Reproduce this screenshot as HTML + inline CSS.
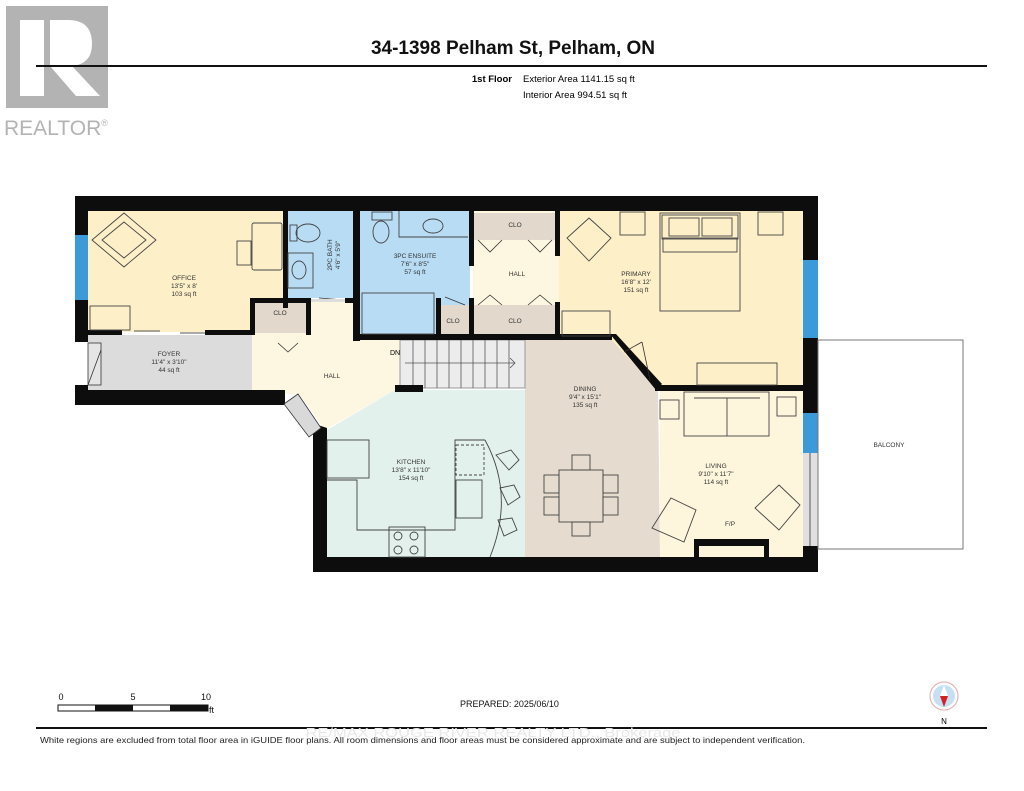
<!DOCTYPE html>
<html><head><meta charset="utf-8"><style>
html,body{margin:0;padding:0;background:#fff;}
svg{display:block;font-family:"Liberation Sans",sans-serif;}
</style></head><body>
<svg width="1024" height="791" viewBox="0 0 1024 791" xmlns="http://www.w3.org/2000/svg">
<!-- logo -->
<rect x="6" y="6" width="102" height="102" fill="#b3b3b3"/>
<path d="M20 20 H44 V96 H20 Z" fill="#fff"/>
<path d="M50 20 H68 Q92 20 92 44 Q92 64 72 66 L100 96 H76 L50 66 Z" fill="#fff"/>
<text x="4" y="135" font-size="21" fill="#b3b3b3">REALTOR<tspan font-size="9" dy="-9">®</tspan></text>
<!-- header -->
<text x="513" y="54" font-size="19" font-weight="bold" text-anchor="middle" fill="#111">34-1398 Pelham St, Pelham, ON</text>
<line x1="36" y1="66" x2="987" y2="66" stroke="#111" stroke-width="2"/>
<text x="512" y="82" font-size="9.5" font-weight="bold" text-anchor="end">1st Floor</text>
<text x="523" y="82" font-size="9.5">Exterior Area 1141.15 sq ft</text>
<text x="523" y="98" font-size="9.5">Interior Area 994.51 sq ft</text>

<!-- room fills -->
<rect x="88" y="211" width="196" height="121" fill="#fdefc8"/>
<rect x="88" y="335" width="166" height="56" fill="#dcdcdc"/>
<polygon points="252,332 308,332 308,302 356,302 356,340 400,340 400,390 395,390 325,430 300,395 252,390" fill="#fdf6e0"/>
<rect x="288" y="211" width="66" height="87" fill="#b9dcf5"/>
<rect x="360" y="211" width="110" height="124" fill="#b9dcf5"/>
<rect x="473" y="211" width="86" height="124" fill="#fdf6e0"/>
<rect x="473" y="213" width="82" height="27" fill="#e2d9cc"/>
<rect x="473" y="305" width="82" height="30" fill="#e2d9cc"/>
<rect x="441" y="305" width="28" height="30" fill="#e2d9cc"/>
<rect x="254" y="302" width="54" height="31" fill="#e2d9cc"/>
<polygon points="559,211 803,211 803,388 655,388 610,338 559,338" fill="#fdefc8"/>
<polygon points="525,338 610,338 658,390 660,557 525,557" fill="#e5dccf"/>
<polygon points="327,430 395,390 525,390 525,557 327,557" fill="#e2f1ec"/>
<rect x="660" y="390" width="143" height="167" fill="#fdf5dc"/>
<!-- stairs -->
<rect x="400" y="340" width="125" height="48" fill="#ececec" stroke="#999" stroke-width="1"/>
<g stroke="#555" stroke-width="0.8">
<line x1="413" y1="340" x2="413" y2="388"/><line x1="425" y1="340" x2="425" y2="388"/><line x1="437" y1="340" x2="437" y2="388"/><line x1="449" y1="340" x2="449" y2="388"/><line x1="461" y1="340" x2="461" y2="388"/><line x1="473" y1="340" x2="473" y2="388"/><line x1="485" y1="340" x2="485" y2="388"/><line x1="497" y1="340" x2="497" y2="388"/><line x1="509" y1="340" x2="509" y2="388"/>
<line x1="405" y1="363" x2="515" y2="363"/><polyline points="510,358 515,363 510,368" fill="none"/>
</g>
<text x="390" y="355" font-size="7">DN</text>

<!-- windows -->
<rect x="75" y="234" width="13" height="67" fill="#3d9ad8"/>
<rect x="803" y="260" width="15" height="79" fill="#3d9ad8"/>
<rect x="803" y="413" width="15" height="40" fill="#3d9ad8"/>
<rect x="803" y="453" width="15" height="93" fill="#e0e0e0"/>
<line x1="810" y1="453" x2="810" y2="546" stroke="#333" stroke-width="0.8"/>

<!-- walls -->
<g fill="#0d0d0d">
<rect x="75" y="196" width="743" height="15"/>
<rect x="75" y="196" width="13" height="39"/>
<rect x="75" y="300" width="13" height="42"/>
<rect x="75" y="385" width="13" height="20"/>
<rect x="75" y="390" width="210" height="15"/>
<polygon points="297,424 313,425 313,440 327,440 327,428 312,423"/>
<rect x="313" y="428" width="14" height="144"/>
<rect x="313" y="557" width="505" height="15"/>
<rect x="803" y="196" width="15" height="64"/>
<rect x="803" y="338" width="15" height="75"/>
<rect x="803" y="546" width="15" height="26"/>
<rect x="283" y="211" width="5" height="97"/>
<rect x="250" y="298" width="61" height="5"/>
<rect x="345" y="298" width="15" height="5"/>
<rect x="250" y="298" width="5" height="37"/>
<rect x="88" y="330" width="34" height="5"/>
<rect x="205" y="330" width="50" height="5"/>
<rect x="306" y="298" width="5" height="37"/>
<rect x="353" y="211" width="7" height="130"/>
<rect x="353" y="334" width="173" height="6"/>
<rect x="469" y="211" width="5" height="55"/>
<rect x="436" y="298" width="5" height="40"/>
<rect x="469" y="298" width="5" height="40"/>
<rect x="555" y="211" width="5" height="45"/>
<rect x="555" y="302" width="5" height="36"/>
<rect x="525" y="334" width="87" height="6"/>
<polygon points="610,334 616,334 662,384 656,390"/>
<rect x="655" y="385" width="148" height="6"/>
<rect x="395" y="385" width="28" height="7"/>
<rect x="694" y="539" width="75" height="18"/>
</g>
<rect x="699" y="546" width="65" height="11" fill="#fdf5dc"/>
<!-- doors -->
<g fill="none" stroke="#333" stroke-width="0.8">
<rect x="88" y="343" width="13" height="42" fill="#e5e5e5"/>
<line x1="88" y1="385" x2="101" y2="350"/>
<polygon points="284,404 298,394 321,428 309,437" fill="#d9d9d9"/>
<polyline points="278,343 288,352 298,343"/>
<polyline points="478,240 490,252 502,240"/><polyline points="528,240 540,252 552,240"/>
<polyline points="478,305 490,295 502,305"/><polyline points="528,305 540,295 552,305"/>
<line x1="624" y1="352" x2="642" y2="342"/><line x1="642" y1="342" x2="650" y2="380"/>
<line x1="319" y1="298" x2="345" y2="300"/>
<line x1="445" y1="297" x2="465" y2="305"/>
</g>
<rect x="311" y="299" width="34" height="3" fill="#ddd"/>
<g stroke="#555" stroke-width="1">
<line x1="134" y1="331" x2="160" y2="331"/><line x1="180" y1="333" x2="205" y2="333"/>
</g>

<!-- furniture -->
<g fill="none" stroke="#444" stroke-width="0.9">
<polygon points="124,213 156,240 124,267 92,240"/><polygon points="124,222 146,240 124,258 102,240"/>
<rect x="252" y="223" width="30" height="47" rx="2"/>
<rect x="237" y="241" width="14" height="24"/>
<rect x="90" y="306" width="40" height="24"/>
<ellipse cx="308" cy="233" rx="12" ry="9"/><rect x="290" y="225" width="7" height="16"/>
<rect x="288" y="253" width="25" height="35"/><ellipse cx="299" cy="270" rx="7" ry="9"/>
<ellipse cx="381" cy="232" rx="8" ry="11"/><rect x="372" y="212" width="20" height="8"/>
<polyline points="399,211 399,237 468,237"/><ellipse cx="433" cy="226" rx="10" ry="7"/>
<rect x="362" y="293" width="72" height="41"/>
<rect x="620" y="212" width="25" height="23"/><rect x="758" y="212" width="25" height="23"/>
<rect x="660" y="213" width="80" height="98"/><rect x="662" y="215" width="76" height="24"/>
<rect x="663" y="238" width="74" height="14"/><rect x="669" y="218" width="30" height="18"/><rect x="702" y="218" width="30" height="18"/>
<polygon points="589,218 611,238 589,261 567,238"/>
<rect x="562" y="311" width="48" height="25"/>
<rect x="697" y="363" width="80" height="22"/>
<rect x="684" y="392" width="85" height="44"/><line x1="727" y1="398" x2="727" y2="436"/><line x1="694" y1="398" x2="760" y2="398"/>
<rect x="660" y="400" width="19" height="19"/><rect x="777" y="397" width="19" height="19"/>
<polygon points="671,498 696,510 684,542 652,528"/><polygon points="779,485 800,505 779,530 755,508"/>
<rect x="559" y="470" width="44" height="52"/>
<rect x="572" y="455" width="18" height="15"/><rect x="572" y="522" width="18" height="14"/>
<rect x="544" y="475" width="15" height="18"/><rect x="544" y="497" width="15" height="18"/>
<rect x="603" y="475" width="15" height="18"/><rect x="603" y="497" width="15" height="18"/>
<rect x="327" y="440" width="42" height="38"/>
<polyline points="327,480 357,480 357,530 455,530 455,440 485,440"/>
<path d="M485 440 Q515 495 490 557"/>
<rect x="456" y="445" width="28" height="30" stroke-dasharray="3 2"/>
<rect x="456" y="480" width="26" height="38"/>
<rect x="389" y="527" width="36" height="30"/>
<circle cx="398" cy="536" r="4"/><circle cx="414" cy="536" r="4"/><circle cx="398" cy="550" r="4"/><circle cx="414" cy="550" r="4"/>
<path d="M496 455 l15 -5 l8 10 l-10 10 Z"/><path d="M500 488 l14 -3 l6 12 l-12 8 Z"/><path d="M498 520 l14 -2 l5 12 l-13 6 Z"/>
</g>
<rect x="818" y="340" width="145" height="209" fill="none" stroke="#777" stroke-width="1"/>

<!-- labels -->
<g font-size="6.5" fill="#333" text-anchor="middle">
<text x="184" y="280">OFFICE</text><text x="184" y="288">13'5" x 8'</text><text x="184" y="296">103 sq ft</text>
<text x="169" y="356">FOYER</text><text x="169" y="364">11'4" x 3'10"</text><text x="169" y="372">44 sq ft</text>
<text x="332" y="378">HALL</text>
<text x="280" y="315">CLO</text>
<text x="415" y="258">3PC ENSUITE</text><text x="415" y="266">7'6" x 8'5"</text><text x="415" y="274">57 sq ft</text>
<text x="515" y="227">CLO</text><text x="517" y="276">HALL</text><text x="515" y="323">CLO</text><text x="453" y="323">CLO</text>
<text transform="translate(332,255) rotate(-90)">2PC BATH</text><text transform="translate(340,255) rotate(-90)">4'6" x 5'9"</text>
<text x="636" y="276">PRIMARY</text><text x="636" y="284">16'8" x 12'</text><text x="636" y="292">151 sq ft</text>
<text x="585" y="391">DINING</text><text x="585" y="399">9'4" x 15'1"</text><text x="585" y="407">135 sq ft</text>
<text x="411" y="464">KITCHEN</text><text x="411" y="472">13'8" x 11'10"</text><text x="411" y="480">154 sq ft</text>
<text x="716" y="468">LIVING</text><text x="716" y="476">9'10" x 11'7"</text><text x="716" y="484">114 sq ft</text>
<text x="730" y="526">F/P</text>
<text x="889" y="447">BALCONY</text>
</g>

<!-- footer -->
<g font-size="9" fill="#111">
<text x="61" y="700" text-anchor="middle">0</text><text x="133" y="700" text-anchor="middle">5</text><text x="206" y="700" text-anchor="middle">10</text>
<text x="209" y="713">ft</text>
<text x="460" y="707">PREPARED: 2025/06/10</text>
</g>
<rect x="58" y="705" width="150" height="6" fill="#fff" stroke="#111" stroke-width="1"/>
<rect x="95" y="705" width="38" height="6" fill="#111"/><rect x="170" y="705" width="38" height="6" fill="#111"/>
<circle cx="944" cy="696" r="14" fill="#fff" stroke="#e2b8b8" stroke-width="1.2"/>
<circle cx="944" cy="696" r="11" fill="#c6e0f3"/>
<polygon points="944,685 948,696 940,696" fill="#fff"/><polygon points="940,696 948,696 944,707" fill="#d42020"/>
<text x="944" y="724" font-size="8" text-anchor="middle">N</text>
<line x1="36" y1="728" x2="987" y2="728" stroke="#111" stroke-width="2"/>
<text x="493" y="737" font-size="13" fill="#e8e8e8" text-anchor="middle" textLength="375" lengthAdjust="spacingAndGlyphs">RE/MAX ROUGE RIVER REALTY LTD., Brokerage</text>
<text x="40" y="743" font-size="8.5" fill="#222" textLength="765" lengthAdjust="spacingAndGlyphs">White regions are excluded from total floor area in iGUIDE floor plans. All room dimensions and floor areas must be considered approximate and are subject to independent verification.</text>
</svg>
</body></html>
